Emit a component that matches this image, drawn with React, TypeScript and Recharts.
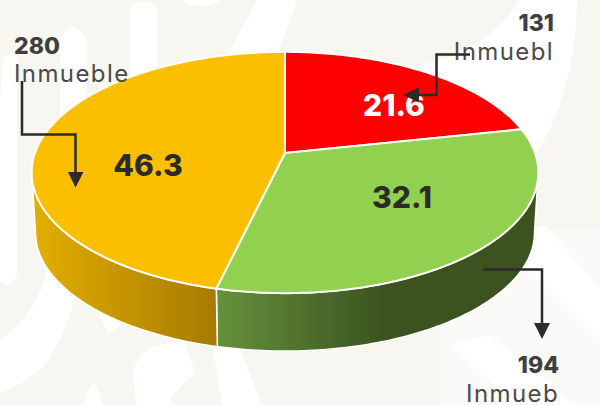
import { PieChart, Pie, Cell } from "recharts";

const units = [131, 194, 280];
const percents = ["21.6", "32.1", "46.3"];
const unitWords = ["Inmuebl", "Inmueb", "Inmueble"];
const topColors = ["#ff0000", "#92d050", "#fcbf00"];
const wallFills = ["none", "url(#wallGreen)", "url(#wallYellow)"];

const pieData = units.map((value, i) => ({ name: unitWords[i], value }));

const RADIAN = Math.PI / 180;
// the pie is seen in perspective: the near edge is bigger than the far one
const TILT = 0.47;
const PERSPECTIVE = 0.1617;
const WALL_DROP = 60;
const WALL_SCALE = 0.985;
const WALL_FROM = -171;
const WALL_TO = -9;

const project = (cx: number, cy: number, r: number, deg: number, scale = 1, drop = 0) => {
  const u = Math.cos(deg * RADIAN);
  const v = Math.sin(deg * RADIAN);
  const w = 1 + PERSPECTIVE * v;
  return [cx + (scale * r * u) / w, cy + drop - (scale * r * TILT * v) / w];
};

const arcPoints = (cx: number, cy: number, r: number, from: number, to: number, scale = 1, drop = 0) => {
  const steps = Math.max(2, Math.ceil(Math.abs(from - to)));
  const pts: string[] = [];
  for (let i = 0; i <= steps; i++) {
    const [x, y] = project(cx, cy, r, from + ((to - from) * i) / steps, scale, drop);
    pts.push(`${x.toFixed(2)} ${y.toFixed(2)}`);
  }
  return pts;
};

const TopSlice = ({ cx, cy, outerRadius, startAngle, endAngle, fill }: any) => {
  const pts = arcPoints(cx, cy, outerRadius, startAngle, endAngle);
  return <path d={`M${cx} ${cy}L${pts.join("L")}Z`} fill={fill} stroke="#ffffff" strokeWidth={2} strokeLinejoin="round" />;
};

const WallSlice = ({ cx, cy, outerRadius, startAngle, endAngle, index }: any) => {
  const from = Math.min(startAngle, WALL_TO);
  const to = Math.max(endAngle, WALL_FROM);
  if (from <= to) return null;
  const upper = arcPoints(cx, cy, outerRadius, from, to);
  const lower = arcPoints(cx, cy, outerRadius, to, from, WALL_SCALE, WALL_DROP);
  return <path d={`M${upper.join("L")}L${lower.join("L")}Z`} fill={wallFills[index]} stroke="#ffffff" strokeWidth={1.5} />;
};

const percentSpots = [
  { x: 394, y: 116, fill: "#ffffff" },
  { x: 402, y: 208, fill: "#2b2b2b" },
  { x: 148, y: 176, fill: "#2b2b2b" },
];

const renderPercent = ({ index }: any) => (
  <text
    x={percentSpots[index].x}
    y={percentSpots[index].y}
    fill={percentSpots[index].fill}
    textAnchor="middle"
    fontSize={30}
    fontWeight={800}
    fontFamily="Inter"
  >
    {percents[index]}
  </text>
);

const Callout = ({ count, word, x, y, gap, anchor }: any) => (
  <text x={x} y={y} fill="#3f3f3f" textAnchor={anchor} fontFamily="Inter">
    <tspan x={x} fontSize={23} fontWeight={800}>{count}</tspan>
    <tspan x={x} dy={gap} fontSize={24} fontWeight={400} letterSpacing={1.4} fill="#4a4a4a">{word}</tspan>
  </text>
);

const Backdrop = () => (
  <svg width={600} height={405} style={{ position: "absolute", left: 0, top: 0 }}>
    <rect width={600} height={405} fill="#f8f6f1" />
    <path d="M440 230H600V405H440Z" fill="#fbfaf8" />
    <g fill="#ffffff">
      <path d="M60 40Q72 14 87 40L87 160L60 160Z" />
      <path d="M130 8Q143 -6 157 8L157 90L130 90Z" />
      <path d="M3 60Q10 46 17 60L17 275Q10 292 0 280L0 100Z" />
      <path d="M180 0Q200 12 222 0Z" />
      <path d="M257 0L297 0L277 55L228 55Z" />
      <path d="M520 0L577 0Q575 110 520 175L400 175L400 68Q480 60 520 0Z" />
      <path d="M500 240L545 225L600 290L600 340Z" />
      <path d="M452 345L490 335L575 405L515 405Z" />
      <path d="M0 340Q40 310 47 267L75 297Q60 350 40 370Q20 385 0 393Z" />
      <path d="M97 310L108 333Q118 330 120 322Z" />
      <path d="M133 372Q140 340 185 342L195 372L170 398L172 405L136 405Z" />
      <path d="M83 405Q90 380 96 384L103 405Z" />
      <path d="M213 348L240 348L262 405L222 405Z" />
    </g>
  </svg>
);

export default function App() {
  return (
    <div style={{ position: "absolute", left: 0, top: 0, width: 600, height: 405, overflow: "hidden" }}>
      <Backdrop />
      <div style={{ position: "absolute", left: 0, top: 0 }}>
        <PieChart width={600} height={405} margin={{ top: 0, right: 0, bottom: 0, left: 0 }}>
          <defs>
            <linearGradient id="wallYellow" gradientUnits="userSpaceOnUse" x1={32} y1={0} x2={218} y2={0}>
              <stop offset="0%" stopColor="#e2ae00" />
              <stop offset="100%" stopColor="#a67a00" />
            </linearGradient>
            <linearGradient id="wallGreen" gradientUnits="userSpaceOnUse" x1={218} y1={0} x2={385} y2={0}>
              <stop offset="0%" stopColor="#65913b" />
              <stop offset="100%" stopColor="#3c5320" />
            </linearGradient>
          </defs>
          <Pie
            data={pieData}
            dataKey="value"
            cx={285}
            cy={153}
            outerRadius={250}
            startAngle={90}
            endAngle={-270}
            stroke="none"
            shape={WallSlice}
            isAnimationActive={false}
          />
          <Pie
            data={pieData}
            dataKey="value"
            cx={285}
            cy={153}
            outerRadius={250}
            startAngle={90}
            endAngle={-270}
            shape={TopSlice}
            label={renderPercent}
            labelLine={false}
            isAnimationActive={false}
          >
            {pieData.map((entry, index) => (
              <Cell key={`cell-${index}`} fill={topColors[index]} />
            ))}
          </Pie>
        </PieChart>
      </div>
      {/* callouts sit above the pie, the chart would put them under its sectors */}
      <svg width={600} height={405} style={{ position: "absolute", left: 0, top: 0 }}>
        <Callout count={units[2]} word={unitWords[2]} x={14} y={54} gap={28} anchor="start" />
        <Callout count={units[0]} word={unitWords[0]} x={554} y={31} gap={29} anchor="end" />
        <Callout count={units[1]} word={unitWords[1]} x={559} y={373} gap={29} anchor="end" />
        <g fill="none" stroke="#2b2b2b" strokeWidth={2.5}>
          <path d="M22 81V134.5H75.5V174" />
          <path d="M470 54.5H436.5V95H418" />
          <path d="M483 269.5H542V325" />
        </g>
        <g fill="#2b2b2b">
          <path d="M68 172H83.5L75.5 187.5Z" />
          <path d="M419 87.5V102.5L403 95Z" />
          <path d="M534 323H550L542 339Z" />
        </g>
      </svg>
    </div>
  );
}
